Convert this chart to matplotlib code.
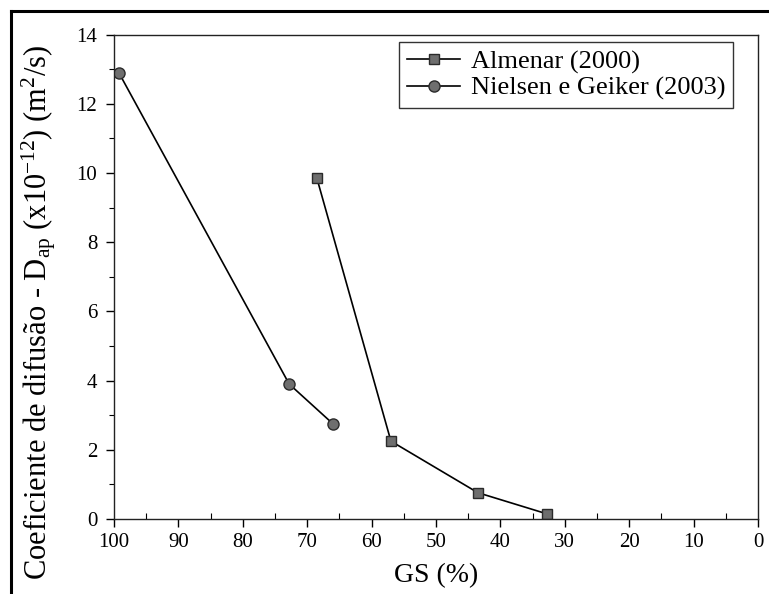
import matplotlib
matplotlib.use("Agg")
import matplotlib.pyplot as plt
from matplotlib.ticker import MultipleLocator
from matplotlib.lines import Line2D

plt.rcParams['font.family'] = ['Liberation Serif', 'DejaVu Serif']
plt.rcParams['mathtext.fontset'] = 'custom'
plt.rcParams['mathtext.rm'] = 'Liberation Serif'
plt.rcParams['mathtext.it'] = 'Liberation Serif:italic'

# Data
almenar_gs = [68.5, 57, 43.5, 32.8]
almenar_d = [9.85, 2.25, 0.76, 0.15]
nielsen_gs = [99.2, 72.8, 66]
nielsen_d = [12.88, 3.9, 2.75]
series_labels = ["Almenar (2000)", "Nielsen e Geiker (2003)"]
x_ticks = [100, 90, 80, 70, 60, 50, 40, 30, 20, 10, 0]
y_ticks = [0, 2, 4, 6, 8, 10, 12, 14]

W, H = 769, 594
L, R, T, B = 114, 758, 34.5, 519
fig = plt.figure(figsize=(W/100, H/100), dpi=100)
ax = fig.add_axes([L/W, 1-B/H, (R-L)/W, (B-T)/H])

mk = dict(color='black', lw=1.2, markerfacecolor='#6e6e6e', markeredgecolor='#2a2a2a',
          markeredgewidth=1.0)
ax.plot(almenar_gs, almenar_d, marker='s', markersize=7.5, label=series_labels[0], **mk)
ax.plot(nielsen_gs, nielsen_d, marker='o', markersize=8, label=series_labels[1], **mk)

ax.set_xlim(100, 0)
ax.set_ylim(0, 14)
ax.set_xticks(x_ticks)
ax.set_yticks(y_ticks)
ax.xaxis.set_minor_locator(MultipleLocator(5))
ax.yaxis.set_minor_locator(MultipleLocator(1))
ax.tick_params(axis='both', which='major', direction='out', length=6, width=1.0,
               labelsize=15, colors='black')
ax.tick_params(axis='x', which='minor', direction='in', length=4, width=0.8)
ax.tick_params(axis='y', which='minor', direction='out', length=3.5, width=0.8)
ax.tick_params(axis='y', which='major', pad=6)
ax.tick_params(axis='x', which='major', pad=4)
for s in ax.spines.values():
    s.set_linewidth(1.0)
    s.set_color('#222222')

ax.set_xlabel('GS (%)', fontsize=20, labelpad=8)
ax.set_ylabel(r'Coeficiente de difusão - D$_{\mathrm{ap}}$ (x10$^{-12}$) (m$^2$/s)', fontsize=22)
ax.yaxis.set_label_coords((58-L)/(R-L), (B-312)/(B-T))

leg = ax.legend(loc='upper right', fontsize=19, frameon=True, fancybox=False,
                edgecolor='black', handlelength=2.0, handletextpad=0.4,
                borderpad=0.3, labelspacing=0.1, borderaxespad=0,
                bbox_to_anchor=((733-L)/(R-L), (B-42)/(B-T)))
leg.get_frame().set_linewidth(1.0)

# scanned page border (left and top)
fig.add_artist(Line2D([11/W, 11/W], [0, 1-11/H], transform=fig.transFigure,
                      color='black', lw=2.2))
fig.add_artist(Line2D([11/W, 1], [1-11/H, 1-11/H], transform=fig.transFigure,
                      color='black', lw=2.2))

fig.savefig('out.png', dpi=100)
